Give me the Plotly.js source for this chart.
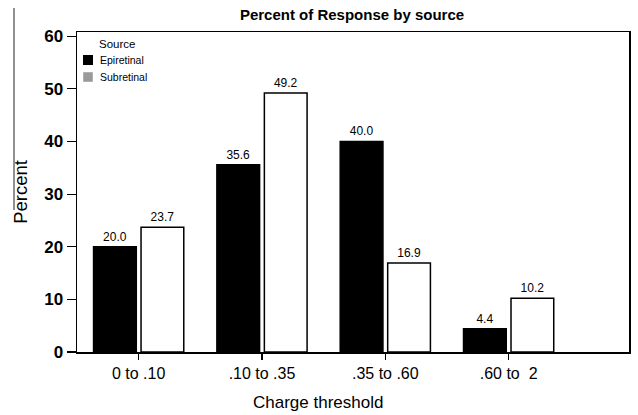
<!DOCTYPE html>
<html>
<head>
<meta charset="utf-8">
<script src="https://cdn.plot.ly/plotly-3.0.1.min.js"></script>
<style>html,body{margin:0;padding:0;background:#fff;}#chart{width:638px;height:415px;}</style>
</head>
<body>
<div id="chart"></div>
<script>
const categories = ["0 to .10", ".10 to .35", ".35 to .60", ".60 to  2"];
const epiretinal = [20.0, 35.6, 40.0, 4.4];
const subretinal = [23.7, 49.2, 16.9, 10.2];
const yTicks = [0, 10, 20, 30, 40, 50, 60];
const seriesNames = ["Epiretinal", "Subretinal"];
const legendColors = ["#000000", "#9a9a9a"];
const xTitle = "Charge threshold";
const yTitle = "Percent";

const FONT = "Liberation Sans, Arial, sans-serif";
const labelFont = {family: FONT, size: 12, color: "#000"};

// plot area in pixels (for legend / title placement helpers)
const M = {l: 77, r: 9, t: 32, b: 63};
const W = 638, H = 415;
const PW = W - M.l - M.r, PH = H - M.t - M.b;
const px = x => (x - M.l) / PW;
const py = y => (H - M.b - y) / PH;

const traces = [
  {
    type: "bar", name: seriesNames[0], x: categories, y: epiretinal,
    marker: {color: "#000", line: {color: "#000", width: 1.5}},
    text: epiretinal.map(v => v.toFixed(1)), textposition: "outside",
    textfont: labelFont, cliponaxis: false, showlegend: false, hoverinfo: "skip"
  },
  {
    type: "bar", name: seriesNames[1], x: categories, y: subretinal,
    marker: {color: "#fff", line: {color: "#000", width: 1.5}},
    text: subretinal.map(v => v.toFixed(1)), textposition: "outside",
    textfont: labelFont, cliponaxis: false, showlegend: false, hoverinfo: "skip"
  }
];

const annotations = [
  {xref: "paper", yref: "paper", x: px(97), y: py(44), xanchor: "left", yanchor: "middle",
   text: "Source", showarrow: false, font: {family: FONT, size: 11.5, color: "#000"}},
  {xref: "paper", yref: "paper", x: px(98), y: py(60), xanchor: "left", yanchor: "middle",
   text: seriesNames[0], showarrow: false, font: {family: FONT, size: 10.5, color: "#000"}},
  {xref: "paper", yref: "paper", x: px(98), y: py(77), xanchor: "left", yanchor: "middle",
   text: seriesNames[1], showarrow: false, font: {family: FONT, size: 10.5, color: "#000"}},
  {xref: "paper", yref: "paper", x: px(318), y: py(402), xanchor: "center", yanchor: "middle",
   text: xTitle, showarrow: false, font: {family: FONT, size: 17, color: "#000"}}
];

const shapes = [
  {type: "rect", xref: "paper", yref: "paper", x0: px(83), x1: px(93), y0: py(55), y1: py(65),
   fillcolor: legendColors[0], line: {width: 0}},
  {type: "rect", xref: "paper", yref: "paper", x0: px(83.5), x1: px(92.5), y0: py(72.5), y1: py(81.5),
   fillcolor: legendColors[1], line: {color: "#b0b0b0", width: 1}},
  {type: "line", xref: "paper", yref: "paper", x0: px(14), x1: px(14), y0: py(8), y1: py(210),
   line: {color: "#222", width: 1}}
];

const layout = {
  width: W, height: H,
  margin: M,
  paper_bgcolor: "#fff", plot_bgcolor: "#fff",
  barmode: "group", bargap: 0.23, bargroupgap: 0.1,
  showlegend: false,
  title: {
    text: "<b>Percent of Response by source</b>",
    font: {family: FONT, size: 15, color: "#000"},
    x: px(352), xref: "paper", xanchor: "center", y: 1 - 15 / H, yanchor: "middle"
  },
  xaxis: {
    type: "category", range: [-0.5, 3.976],
    showline: true, linecolor: "#000", linewidth: 1.5, mirror: true,
    ticks: "outside", ticklen: 6, tickcolor: "#000", tickwidth: 1.2,
    tickfont: {family: FONT, size: 16, color: "#000"},
    showgrid: false, zeroline: false
  },
  yaxis: {
    range: [0, 60.8], tickvals: yTicks, ticktext: yTicks.map(v => "<b>" + v + "</b>"),
    showline: true, linecolor: "#000", linewidth: 1.5, mirror: true,
    ticks: "outside", ticklen: 9, tickcolor: "#000", tickwidth: 1.2,
    tickfont: {family: FONT, size: 17, color: "#000"},
    showgrid: false, zeroline: false,
    title: {text: yTitle, font: {family: FONT, size: 18.5, color: "#000"}, standoff: 11}
  },
  annotations: annotations,
  shapes: shapes
};

Plotly.newPlot("chart", traces, layout, {staticPlot: true, displayModeBar: false});
</script>
</body>
</html>
